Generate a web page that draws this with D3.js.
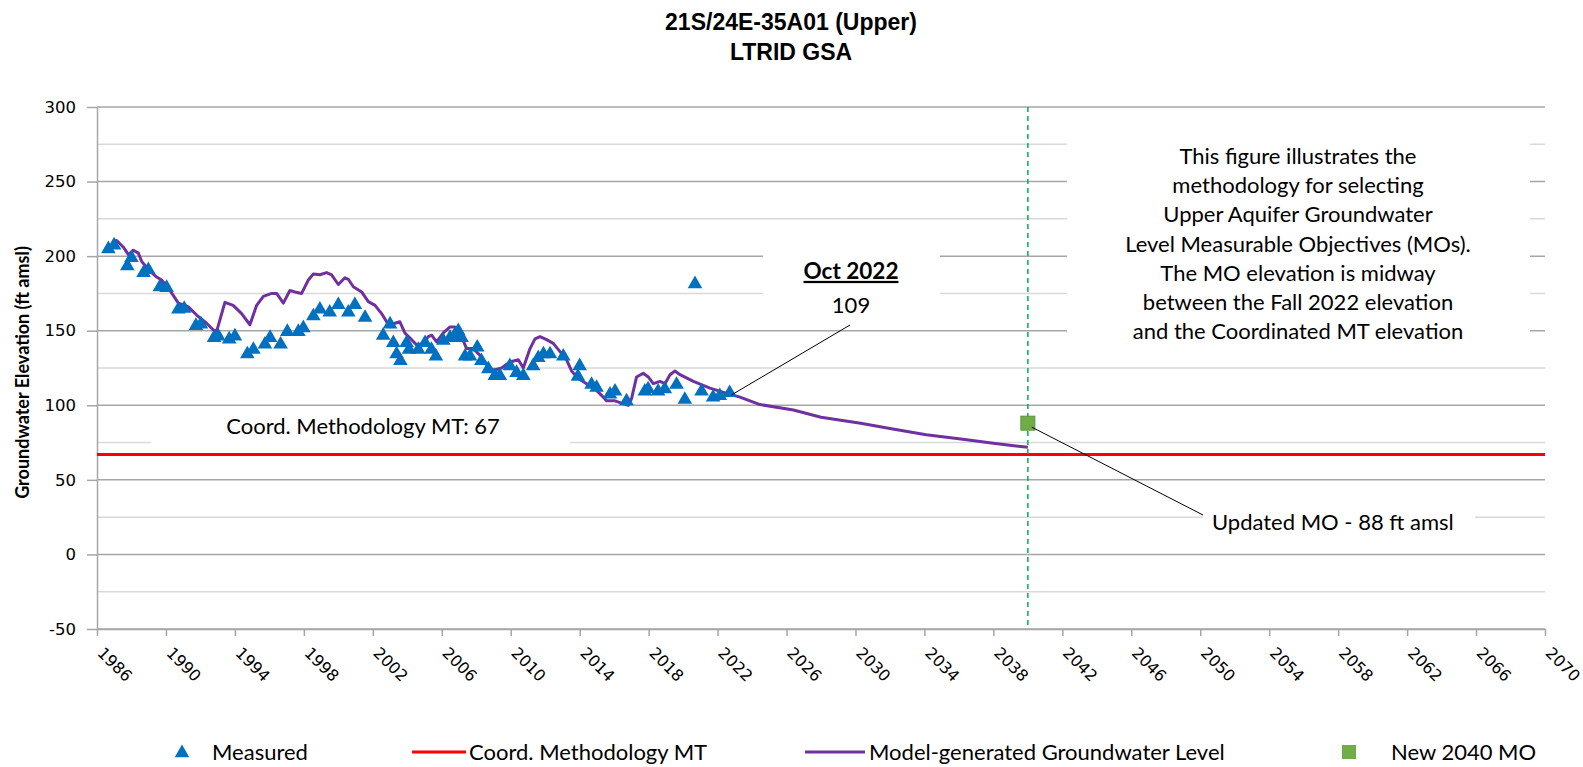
<!DOCTYPE html>
<html>
<head>
<meta charset="utf-8">
<script src="https://cdn.jsdelivr.net/npm/d3@7/dist/d3.min.js"></script>
<style>
    body { margin: 0; background: #fff; }
    text { fill: #000; }
</style>
</head>
<body>
<svg id="chart" width="1583" height="767"></svg>
<script>
// values
const titleLines = ["21S/24E-35A01 (Upper)", "LTRID GSA"];
const yAxisTitle = "Groundwater Elevation (ft amsl)";

const xTickYears = [1986, 1990, 1994, 1998, 2002, 2006, 2010, 2014, 2018, 2022, 2026, 2030,
    2034, 2038, 2042, 2046, 2050, 2054, 2058, 2062, 2066, 2070];
const yMajorTicks = [-50, 0, 50, 100, 150, 200, 250, 300];
const yMinorTicks = [-25, 25, 75, 125, 175, 225, 275];

const measuredYears = [1986.66, 1986.99, 1987.76, 1988.0, 1988.7, 1988.98, 1989.65, 1990.04, 1990.72, 1991.06,
    1991.74, 1992.03, 1992.79, 1993.04, 1993.67, 1994.0, 1994.72, 1995.07, 1995.74, 1996.04,
    1996.65, 1997.04, 1997.68, 1997.97, 1998.55, 1998.93, 1999.5, 2000.0, 2000.58, 2000.96,
    2001.55, 2002.6, 2003.0, 2003.19, 2003.38, 2003.6, 2003.96, 2004.1, 2004.64, 2005.03,
    2005.4, 2005.66, 2006.09, 2006.48, 2006.77, 2006.96, 2007.15, 2007.35, 2007.64, 2008.06,
    2008.3, 2008.7, 2009.08, 2009.37, 2009.95, 2010.34, 2010.73, 2011.3, 2011.6, 2011.9,
    2012.28, 2013.05, 2013.9, 2014.0, 2014.69, 2014.98, 2015.76, 2016.05, 2016.72, 2017.78,
    2017.97, 2018.55, 2018.94, 2019.62, 2020.1, 2020.69, 2021.07, 2021.74, 2022.13, 2022.7];
const measuredValues = [205.5, 208, 194, 199.5, 189.5, 191.5, 180, 179.5, 165, 165.5,
    154, 155, 146, 147, 145, 147, 135, 138, 141.5, 146,
    141.5, 150, 150, 152.5, 160.5, 165, 163, 168, 163, 168,
    159.5, 147.5, 155, 142.5, 135, 130.5, 142.5, 138, 138, 142.5,
    138, 133.5, 144, 146, 148, 150.5, 146, 133.5, 133.5, 139.5,
    130.5, 125, 120.5, 120.5, 127, 122.5, 120.5, 127, 132.5, 135,
    135, 133.5, 120, 127, 114.5, 112.5, 108, 110, 103.5, 110,
    111.5, 110, 111.5, 114.5, 104.5, 182, 110, 106, 107, 109];

const modelYears = [1986.95, 1987.14, 1987.53, 1987.82, 1988.11, 1988.4, 1988.59, 1988.98, 1989.46, 1989.75,
    1990.23, 1990.72, 1991.3, 1991.78, 1992.36, 1992.75, 1992.94, 1993.42, 1993.9, 1994.39,
    1994.87, 1995.26, 1995.65, 1996.13, 1996.42, 1996.81, 1997.19, 1997.48, 1997.87, 1998.26,
    1998.55, 1998.93, 1999.32, 1999.61, 2000.0, 2000.38, 2000.58, 2000.87, 2001.35, 2001.74,
    2002.13, 2002.51, 2002.8, 2003.0, 2003.28, 2003.57, 2003.86, 2004.25, 2004.54, 2004.93,
    2005.22, 2005.41, 2005.7, 2006.09, 2006.48, 2006.77, 2007.06, 2007.44, 2007.83, 2008.22,
    2008.6, 2008.99, 2009.47, 2009.95, 2010.44, 2010.73, 2011.12, 2011.41, 2011.7, 2012.08,
    2012.47, 2012.86, 2013.24, 2013.53, 2013.92, 2014.4, 2014.98, 2015.37, 2015.56, 2016.05,
    2016.43, 2016.82, 2017.01, 2017.3, 2017.69, 2017.98, 2018.27, 2018.66, 2018.95, 2019.24,
    2019.53, 2019.82, 2020.6, 2021.56, 2022.53, 2023.3, 2024.46, 2026.4, 2028.0, 2030.3,
    2032.0, 2034.1, 2036.0, 2038.0, 2040.0];
const modelValues = [210, 210.5, 206, 201, 204, 202, 196.5, 191, 186, 184,
    177, 168.5, 166, 160.5, 155, 150.5, 149.5, 169, 167, 161.5,
    154, 167, 173, 175, 175, 168.5, 177, 176, 175, 184,
    188, 187.5, 189, 187.5, 181, 185.5, 184.5, 179.5, 176, 169.5,
    167, 161.5, 156, 152.5, 155, 156, 148.5, 144, 140.5, 141.5,
    146, 147, 142.5, 148.5, 152.5, 152.5, 148.5, 138, 138, 133.5,
    127, 123.5, 125, 129, 130.5, 125, 138, 144.5, 146, 144,
    141.5, 136, 130.5, 123, 118, 114.5, 110, 105.5, 103, 103,
    101.5, 100, 104.5, 119, 121.5, 119, 114.5, 116, 114.5, 120.5,
    123, 120.5, 116, 111.5, 108, 105.5, 100.5, 96.8, 92, 88,
    84.5, 80.2, 77.5, 74.5, 71.8];

const mtValue = 67;
const moYear = 2040;
const moValue = 88;
const octYear = 2022.7;
const octValue = 109;

const legendLabels = ["Measured", "Coord. Methodology MT", "Model-generated Groundwater Level", "New 2040 MO"];
const noteLines = ["This figure illustrates the", "methodology for selecting", "Upper Aquifer Groundwater",
    "Level Measurable Objectives (MOs).", "The MO elevation is midway",
    "between the Fall 2022 elevation", "and the Coordinated MT elevation"];

const width = 1583, height = 767;
const margin = { top: 107, right: 38, bottom: 138, left: 97 };
const textFont = "Lato, 'Open Sans', sans-serif";
const tickFont = "'DejaVu Sans', Verdana, sans-serif";

const svg = d3.select("#chart");

const x = d3.scaleLinear()
    .domain([1986, 2070])
    .range([margin.left, width - margin.right]);
const y = d3.scaleLinear()
    .domain([-50, 300])
    .range([height - margin.bottom, margin.top]);

/* Gridlines */

svg.append("g")
    .selectAll("line")
    .data(yMinorTicks)
    .enter()
    .append("line")
    .attr("x1", x(1986)).attr("x2", x(2070))
    .attr("y1", d => y(d)).attr("y2", d => y(d))
    .attr("stroke", "#d9d9d9")
    .attr("stroke-width", 1.5);

svg.append("g")
    .selectAll("line")
    .data(yMajorTicks)
    .enter()
    .append("line")
    .attr("x1", x(1986)).attr("x2", x(2070))
    .attr("y1", d => y(d)).attr("y2", d => y(d))
    .attr("stroke", "#a6a6a6")
    .attr("stroke-width", 1.5);

/* Axes */

const yAxis = svg.append("g")
    .attr("transform", "translate(" + x(1986) + ",0)")
    .call(d3.axisLeft(y).tickValues(yMajorTicks).tickFormat(d => String(d))
        .tickSize(10).tickPadding(11).tickSizeOuter(0));
yAxis.selectAll("path, line").attr("stroke", "#a6a6a6").attr("stroke-width", 1.5);
yAxis.selectAll("text")
    .attr("font-family", tickFont)
    .attr("font-size", 16.5)
    .attr("fill", "#1a1a1a");

const xAxis = svg.append("g")
    .attr("transform", "translate(0," + y(-50) + ")")
    .call(d3.axisBottom(x).tickValues(xTickYears).tickFormat(d => String(d)).tickSize(7).tickSizeOuter(0));
xAxis.selectAll("path, line").attr("stroke", "#a6a6a6").attr("stroke-width", 1.5);
xAxis.selectAll("text")
    .attr("font-family", tickFont)
    .attr("font-size", 16)
    .attr("fill", "#1a1a1a")
    .attr("text-anchor", "start")
    .attr("x", 0)
    .attr("y", 0)
    .attr("dy", "0.35em")
    .attr("transform", "translate(3,21) rotate(45)");

/* White text boxes that hide the gridlines behind the notes */

const boxes = [
    { x: 151, y: 410, w: 419, h: 36 },
    { x: 763, y: 244, w: 177, h: 78 },
    { x: 1067, y: 132, w: 463, h: 214 },
    { x: 1203, y: 503, w: 272, h: 38 }
];
svg.append("g")
    .selectAll("rect")
    .data(boxes)
    .enter()
    .append("rect")
    .attr("x", d => d.x).attr("y", d => d.y)
    .attr("width", d => d.w).attr("height", d => d.h)
    .attr("fill", "#fff");

/* Series */

svg.append("path")
    .datum([1986, 2070])
    .attr("fill", "none")
    .attr("stroke", "#ff0000")
    .attr("stroke-width", 3)
    .attr("d", d3.line().x(d => x(d)).y(() => y(mtValue)));

svg.append("line")
    .attr("x1", x(moYear)).attr("x2", x(moYear))
    .attr("y1", y(300)).attr("y2", y(-50))
    .attr("stroke", "#00b050")
    .attr("stroke-width", 1.5)
    .attr("stroke-dasharray", "5,4");

const modelData = modelYears.map((yr, i) => ({ yr, v: modelValues[i] }));
svg.append("path")
    .datum(modelData)
    .attr("fill", "none")
    .attr("stroke", "#7030a0")
    .attr("stroke-width", 3)
    .attr("stroke-linejoin", "round")
    .attr("d", d3.line().x(d => x(d.yr)).y(d => y(d.v)));

const triangle = d3.symbol().type(d3.symbolTriangle).size(92);
const measuredData = measuredYears.map((yr, i) => ({ yr, v: measuredValues[i] }));
svg.append("g")
    .selectAll("path")
    .data(measuredData)
    .enter()
    .append("path")
    .attr("d", triangle)
    .attr("transform", d => "translate(" + x(d.yr) + "," + (y(d.v) + 1) + ")")
    .attr("fill", "#0070c0");

svg.append("rect")
    .attr("x", x(moYear) - 7).attr("y", y(moValue) - 7)
    .attr("width", 14).attr("height", 14)
    .attr("fill", "#70ad47")
    .attr("stroke", "#5e9440")
    .attr("stroke-width", 1);

/* Leader lines */

svg.append("line")
    .attr("x1", x(octYear) + 2).attr("y1", y(octValue) + 3)
    .attr("x2", 850).attr("y2", 325)
    .attr("stroke", "#000").attr("stroke-width", 1);

svg.append("line")
    .attr("x1", x(moYear) + 4).attr("y1", y(moValue) + 4)
    .attr("x2", 1203).attr("y2", 515)
    .attr("stroke", "#000").attr("stroke-width", 1);

/* Notes */

svg.append("text")
    .attr("x", 363).attr("y", 426).attr("dy", "0.35em")
    .attr("text-anchor", "middle")
    .attr("font-family", textFont).attr("font-size", 22)
    .text("Coord. Methodology MT: " + mtValue);

svg.append("text")
    .attr("x", 851).attr("y", 271).attr("dy", "0.35em")
    .attr("text-anchor", "middle")
    .attr("font-family", textFont).attr("font-size", 22.5)
    .attr("font-weight", "bold")
    .attr("text-decoration", "underline")
    .text("Oct 2022");
svg.append("text")
    .attr("x", 851).attr("y", 305).attr("dy", "0.35em")
    .attr("text-anchor", "middle")
    .attr("font-family", textFont).attr("font-size", 22)
    .text(octValue);

svg.append("text")
    .attr("x", 1212).attr("y", 522).attr("dy", "0.35em")
    .attr("font-family", textFont).attr("font-size", 22)
    .text("Updated MO - " + moValue + " ft amsl");

svg.append("g")
    .selectAll("text")
    .data(noteLines)
    .enter()
    .append("text")
    .attr("x", 1298)
    .attr("y", (d, i) => 156.5 + i * 29.1)
    .attr("dy", "0.35em")
    .attr("text-anchor", "middle")
    .attr("font-family", textFont).attr("font-size", 22)
    .text(d => d);

/* Titles */

svg.append("g")
    .selectAll("text")
    .data(titleLines)
    .enter()
    .append("text")
    .attr("x", 791)
    .attr("y", (d, i) => 22 + i * 30)
    .attr("dy", "0.35em")
    .attr("text-anchor", "middle")
    .attr("font-family", "'Liberation Sans', Arial, sans-serif")
    .attr("font-size", 23)
    .attr("font-weight", "bold")
    .text(d => d);

svg.append("text")
    .attr("transform", "translate(23," + y(122) + ") rotate(-90)")
    .attr("dy", "0.35em")
    .attr("text-anchor", "middle")
    .attr("font-family", textFont).attr("font-size", 18)
    .attr("font-weight", "bold")
    .text(yAxisTitle);

/* Legend */

const legendY = 752;
const legend = svg.append("g");
legend.append("path")
    .attr("d", triangle)
    .attr("transform", "translate(182," + (legendY + 1) + ")")
    .attr("fill", "#0070c0");
legend.append("line")
    .attr("x1", 412).attr("x2", 466).attr("y1", legendY).attr("y2", legendY)
    .attr("stroke", "#ff0000").attr("stroke-width", 3);
legend.append("line")
    .attr("x1", 805).attr("x2", 865).attr("y1", legendY).attr("y2", legendY)
    .attr("stroke", "#7030a0").attr("stroke-width", 3);
legend.append("rect")
    .attr("x", 1342).attr("y", legendY - 7).attr("width", 14).attr("height", 14)
    .attr("fill", "#70ad47");

const legendTextX = [212, 469, 869, 1391];
legend.selectAll("text")
    .data(legendLabels)
    .enter()
    .append("text")
    .attr("x", (d, i) => legendTextX[i])
    .attr("y", legendY)
    .attr("dy", "0.35em")
    .attr("font-family", textFont).attr("font-size", 22)
    .text(d => d);
</script>
</body>
</html>
